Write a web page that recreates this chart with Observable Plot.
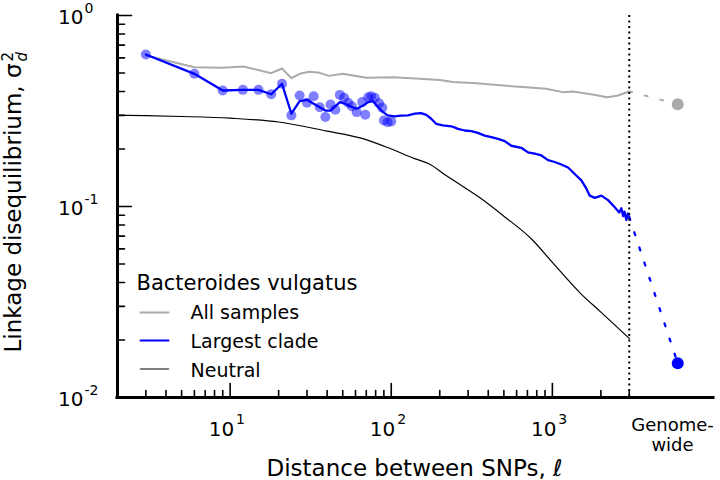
<!DOCTYPE html>
<html>
<head>
<meta charset="utf-8">
<script src="https://cdn.jsdelivr.net/npm/d3@7"></script>
<script src="https://cdn.jsdelivr.net/npm/@observablehq/plot@0.6"></script>
<style>
  html, body { margin: 0; padding: 0; background: white; }
</style>
</head>
<body>
<div id="chart"></div>
<script>
// ---- Data ----
// Largest clade: individual points (x < 100)
const cladeDotX = [3, 6, 9, 12, 15, 18, 21, 24, 27, 30, 33, 36, 39, 42, 45, 48, 51, 54, 57, 61, 66, 69, 72, 75, 79, 84, 88, 90, 95, 100];
const cladeDotY = [0.625, 0.495, 0.405, 0.408, 0.408, 0.387, 0.439, 0.30, 0.381, 0.349, 0.378, 0.331, 0.294, 0.342, 0.321, 0.384, 0.371, 0.349, 0.335, 0.312, 0.352, 0.302, 0.373, 0.378, 0.371, 0.347, 0.329, 0.282, 0.276, 0.279];

// Largest clade: line
const cladeLineX = [3, 6, 9, 12, 15, 18, 21, 24, 27, 30, 33, 36, 39, 42, 48, 52, 56, 61, 67, 72, 77, 83, 89, 95, 105, 115, 127, 140, 153, 165, 177, 190, 209, 236, 260, 285, 314, 345, 380, 418, 460, 506, 556, 641, 706, 777, 855, 940, 1034, 1137, 1251, 1376, 1514, 1626, 1706, 1834, 2015, 2216, 2438, 2600, 2680, 2750, 2800, 2880, 2940, 3000];
const cladeLineY = [0.625, 0.495, 0.405, 0.408, 0.408, 0.387, 0.439, 0.306, 0.356, 0.362, 0.345, 0.331, 0.318, 0.318, 0.352, 0.345, 0.334, 0.325, 0.338, 0.352, 0.356, 0.331, 0.312, 0.300, 0.296, 0.299, 0.300, 0.306, 0.308, 0.302, 0.288, 0.271, 0.266, 0.263, 0.255, 0.250, 0.248, 0.243, 0.235, 0.231, 0.226, 0.220, 0.208, 0.203, 0.192, 0.189, 0.185, 0.175, 0.171, 0.166, 0.160, 0.148, 0.137, 0.124, 0.114, 0.111, 0.114, 0.108, 0.099, 0.093, 0.098, 0.089, 0.094, 0.085, 0.092, 0.088];

// All samples
const allX = [3, 6, 9, 12, 18, 21, 24, 27, 31, 36, 41, 50, 70, 102, 150, 200, 241, 338, 494, 689, 915, 1160, 1340, 1780, 2180, 2520, 3000];
const allY = [0.617, 0.536, 0.532, 0.541, 0.499, 0.528, 0.470, 0.495, 0.507, 0.501, 0.483, 0.495, 0.472, 0.475, 0.466, 0.460, 0.448, 0.442, 0.430, 0.421, 0.413, 0.397, 0.400, 0.386, 0.373, 0.380, 0.400];

// Neutral expectation
const neutralX = [2, 3, 5, 10, 20, 40, 65, 100, 140, 170, 220, 250, 350, 500, 750, 1000, 1500, 2000, 3000];
const neutralY = [0.300, 0.299, 0.296, 0.290, 0.277, 0.248, 0.228, 0.200, 0.178, 0.168, 0.145, 0.135, 0.112, 0.089, 0.067, 0.051, 0.035, 0.028, 0.0204];

// Genome-wide values
const genomeX = 6000;
const genomeAll = 0.343;
const genomeClade = 0.0151;

// Axis ticks
const xMajor = [10, 100, 1000];
const xMajorExp = ["1", "2", "3"];
const xMinor = [3, 4, 5, 6, 7, 8, 9, 20, 30, 40, 50, 60, 70, 80, 90, 200, 300, 400, 500, 600, 700, 800, 900, 2000, 3000];
const yMajor = [0.01, 0.1, 1];
const yMajorExp = ["-2", "-1", "0"];
const yMinor = [0.02, 0.03, 0.04, 0.05, 0.06, 0.07, 0.08, 0.09, 0.2, 0.3, 0.4, 0.5, 0.6, 0.7, 0.8, 0.9];
const boundary = 3000;
const xMin = 2, xMax = 10000, yMin = 0.01, yMax = 1;

const speciesName = "Bacteroides vulgatus";
const seriesNames = ["All samples", "Largest clade", "Neutral"];
const seriesColors = ["#aaaaaa", "#0000ff", "#555555"];

// ---- Build tables ----
const cladeDots = cladeDotX.map((x, i) => ({x, y: cladeDotY[i]}));
const cladeLine = cladeLineX.map((x, i) => ({x, y: cladeLineY[i]}));
const allLine = allX.map((x, i) => ({x, y: allY[i]}));
const neutral = neutralX.map((x, i) => ({x, y: neutralY[i]}));
const allTail = [{x: allX[allX.length - 1], y: allY[allY.length - 1]}, {x: genomeX, y: genomeAll}];
const cladeTail = [{x: cladeLineX[cladeLineX.length - 1], y: cladeLineY[cladeLineY.length - 1]}, {x: genomeX, y: genomeClade}];

const ML = 117, MT = 15, MR = 7, MB = 83, W = 720, H = 480;
const font = "DejaVu Sans";

const lineShape = {draw(ctx, l) { ctx.moveTo(0, 0); ctx.lineTo(0, -l); }};

// absolute-position helpers for annotation text (pixels from top-left of the svg)
const label = (str, px, py, opts = {}) =>
  Plot.text([str], {frameAnchor: "top-left", text: d => d, lineAnchor: "bottom", dx: px - ML, dy: py - MT, ...opts});
const swatch = (color, px, py, width) =>
  Plot.vector([0], {frameAnchor: "top-left", dx: px - ML, dy: py - MT, rotate: 90, length: 28, anchor: "start", shape: lineShape, stroke: color, strokeWidth: width});

const xTick = (vals, len) =>
  Plot.vector(vals, {x: d => d, y: () => yMin, rotate: 0, length: len, anchor: "start", shape: lineShape, stroke: "black", strokeWidth: 1.6});
const yTick = (vals, len) =>
  Plot.vector(vals, {y: d => d, x: () => xMin, rotate: 90, length: len, anchor: "start", shape: lineShape, stroke: "black", strokeWidth: 1.6});

const chart = Plot.plot({
  width: W, height: H,
  marginLeft: ML, marginRight: MR, marginTop: MT, marginBottom: MB,
  x: {type: "log", domain: [xMin, xMax], axis: null},
  y: {type: "log", domain: [yMin, yMax], axis: null},
  style: {fontFamily: font, background: "white", color: "black"},
  marks: [
    Plot.line(neutral, {x: "x", y: "y", stroke: "black", strokeWidth: 1.2, curve: "monotone-x"}),
    Plot.line(allLine, {x: "x", y: "y", stroke: "#aaaaaa", strokeWidth: 2}),
    Plot.line(allTail, {x: "x", y: "y", stroke: "#aaaaaa", strokeWidth: 2, strokeDasharray: "3,13"}),
    Plot.dot(cladeDots, {x: "x", y: "y", r: 5, fill: "#0000ff", fillOpacity: 0.5, stroke: "none"}),
    Plot.line(cladeLine, {x: "x", y: "y", stroke: "#0000ff", strokeWidth: 2.3}),
    Plot.line(cladeTail, {x: "x", y: "y", stroke: "#0000ff", strokeWidth: 2.3, strokeDasharray: "3,13"}),
    Plot.dot([{x: genomeX, y: genomeAll}], {x: "x", y: "y", r: 6, fill: "#aaaaaa"}),
    Plot.dot([{x: genomeX, y: genomeClade}], {x: "x", y: "y", r: 6, fill: "#0000ff"}),
    Plot.ruleX([boundary], {stroke: "black", strokeWidth: 2, strokeDasharray: "2,3.5"}),
    // spines
    Plot.ruleY([yMin], {stroke: "black", strokeWidth: 3, strokeLinecap: "square"}),
    Plot.ruleX([xMin], {stroke: "black", strokeWidth: 3, strokeLinecap: "square"}),
    // ticks (inward)
    xTick(xMajor, 14),
    xTick(xMinor, 7),
    yTick(yMajor, 14),
    yTick(yMinor, 7),
    // x tick labels
    Plot.text(xMajor, {x: d => d, frameAnchor: "bottom", text: () => "10", textAnchor: "end", lineAnchor: "bottom", dx: 4, dy: 38, fontSize: 20}),
    Plot.text(xMajor, {x: d => d, frameAnchor: "bottom", text: (d, i) => xMajorExp[i], textAnchor: "start", lineAnchor: "bottom", dx: 6, dy: 26, fontSize: 14}),
    // y tick labels
    Plot.text(yMajor, {y: d => d, frameAnchor: "left", text: () => "10", textAnchor: "end", lineAnchor: "middle", dx: -34, dy: 2, fontSize: 20}),
    Plot.text(yMajor, {y: d => d, frameAnchor: "left", text: (d, i) => yMajorExp[i], textAnchor: "start", lineAnchor: "bottom", dx: -33, dy: -3, fontSize: 14}),
    // Genome-wide label
    label("Genome-", 672, 430, {textAnchor: "middle", fontSize: 18}),
    label("wide", 672, 450, {textAnchor: "middle", fontSize: 18}),
    // axis labels
    label("Distance between SNPs, ℓ", 414, 475, {textAnchor: "middle", fontSize: 23}),
    label("Linkage disequilibrium, σ", 20, 63, {textAnchor: "end", rotate: -90, fontSize: 23}),
    label("2", 12, 61, {textAnchor: "start", rotate: -90, fontSize: 15}),
    label("d", 26, 61, {textAnchor: "start", rotate: -90, fontSize: 15, fontStyle: "italic"}),
    // legend
    label(speciesName, 136, 289, {textAnchor: "start", fontSize: 21}),
    swatch(seriesColors[0], 140, 312, 2),
    swatch(seriesColors[1], 140, 340, 2),
    swatch(seriesColors[2], 140, 368.5, 1.5),
    label(seriesNames[0], 190, 318, {textAnchor: "start", fontSize: 19}),
    label(seriesNames[1], 190, 347, {textAnchor: "start", fontSize: 19}),
    label(seriesNames[2], 190, 376, {textAnchor: "start", fontSize: 19})
  ]
});
document.getElementById("chart").appendChild(chart);
</script>
</body>
</html>
